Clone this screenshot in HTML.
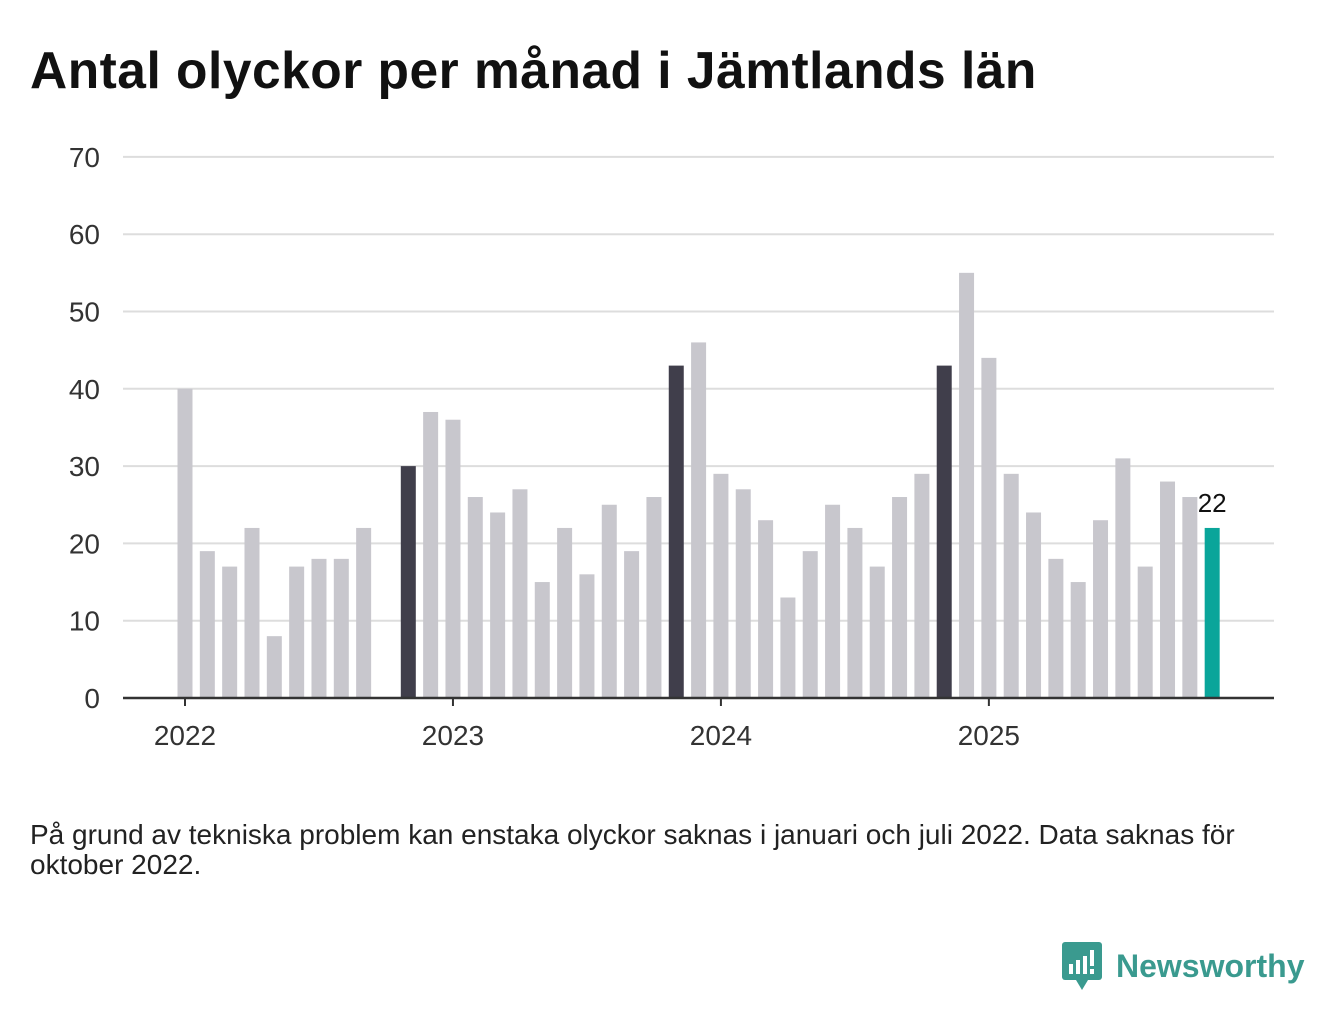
<!DOCTYPE html>
<html><head><meta charset="utf-8"><style>
body{margin:0;width:1340px;height:1020px;background:#fff;font-family:"Liberation Sans","DejaVu Sans",sans-serif;overflow:hidden;position:relative}
#title{position:absolute;left:30px;top:40px;font-size:51.5px;font-weight:bold;color:#111;margin:0;letter-spacing:0.5px}
#note{position:absolute;left:30px;top:820px;font-size:28px;color:#222;line-height:30px;width:1250px}
#logo{position:absolute;left:1062px;top:942px;display:flex;align-items:center}
#logo span{font-size:32px;font-weight:bold;color:#3a9a8f;margin-left:14px}
</style></head><body>
<h1 id="title">Antal olyckor per månad i Jämtlands län</h1>
<svg id="chart" width="1340" height="1020" style="position:absolute;left:0;top:0"></svg>
<div id="note">På grund av tekniska problem kan enstaka olyckor saknas i januari och juli 2022. Data saknas för oktober 2022.</div>
<div id="logo">
<svg width="40" height="48"><rect x="0" y="0" width="40" height="38" rx="3" fill="#3a9a8f"/><polygon points="14,38 26,38 20,48" fill="#3a9a8f"/><rect x="7" y="22" width="4" height="10" fill="#fff"/><rect x="14" y="18" width="4" height="14" fill="#fff"/><rect x="21" y="14" width="4" height="18" fill="#fff"/><rect x="28" y="8" width="4" height="16" fill="#fff"/><rect x="28" y="27" width="4" height="5" fill="#fff"/></svg>
<span>Newsworthy</span></div>
<script>
const values=[40,19,17,22,8,17,18,18,22,null,30,37,
36,26,24,27,15,22,16,25,19,26,43,46,
29,27,23,13,19,25,22,17,26,29,43,55,
44,29,24,18,15,23,31,17,28,26,22];
const yTicks=[0,10,20,30,40,50,60,70];
const yearLabels=["2022","2023","2024","2025"];
const ns="http://www.w3.org/2000/svg";
const svg=document.getElementById('chart');
const x0=185,step=22.33,yZero=698,yPer=7.73,left=123,right=1274,bw=15;
const xs=i=>x0+i*step, ys=v=>yZero-v*yPer;
function mk(t,a){const e=document.createElementNS(ns,t);for(const k in a)e.setAttribute(k,a[k]);svg.appendChild(e);return e;}
yTicks.forEach(t=>{
 if(t>0){const l=mk('line',{x1:left,x2:right,y1:ys(t),y2:ys(t),stroke:'#dddddd','stroke-width':2});
 
 }
 const tx=mk('text',{x:100,y:ys(t)+10,'text-anchor':'end','font-size':28,fill:'#333'});
 tx.textContent=t;
 
 
});
values.forEach((v,i)=>{
 if(v==null)return;
 const last=i===values.length-1;
 const fill=last?'#0aa59a':(i%12===10?'#403e4b':'#c8c7cd');
 const r=mk('rect',{x:xs(i)-bw/2,y:ys(v),width:bw,height:v*yPer,fill:fill});
 
 
 if(last){const t=mk('text',{x:xs(i),y:ys(v)-16,'text-anchor':'middle','font-size':26,fill:'#111'});
 t.textContent=v;
 
 }
});
const ax=mk('line',{x1:left,x2:right,y1:yZero,y2:yZero,stroke:'#333','stroke-width':2.5});


yearLabels.forEach((y,j)=>{
 const x=xs(j*12);
 const tk=mk('line',{x1:x,x2:x,y1:yZero,y2:yZero+8,stroke:'#333','stroke-width':2});
 
 
 const t=mk('text',{x:x,y:745,'text-anchor':'middle','font-size':28,fill:'#333'});
 t.textContent=y;
 
 
});
</script>
</body></html>
